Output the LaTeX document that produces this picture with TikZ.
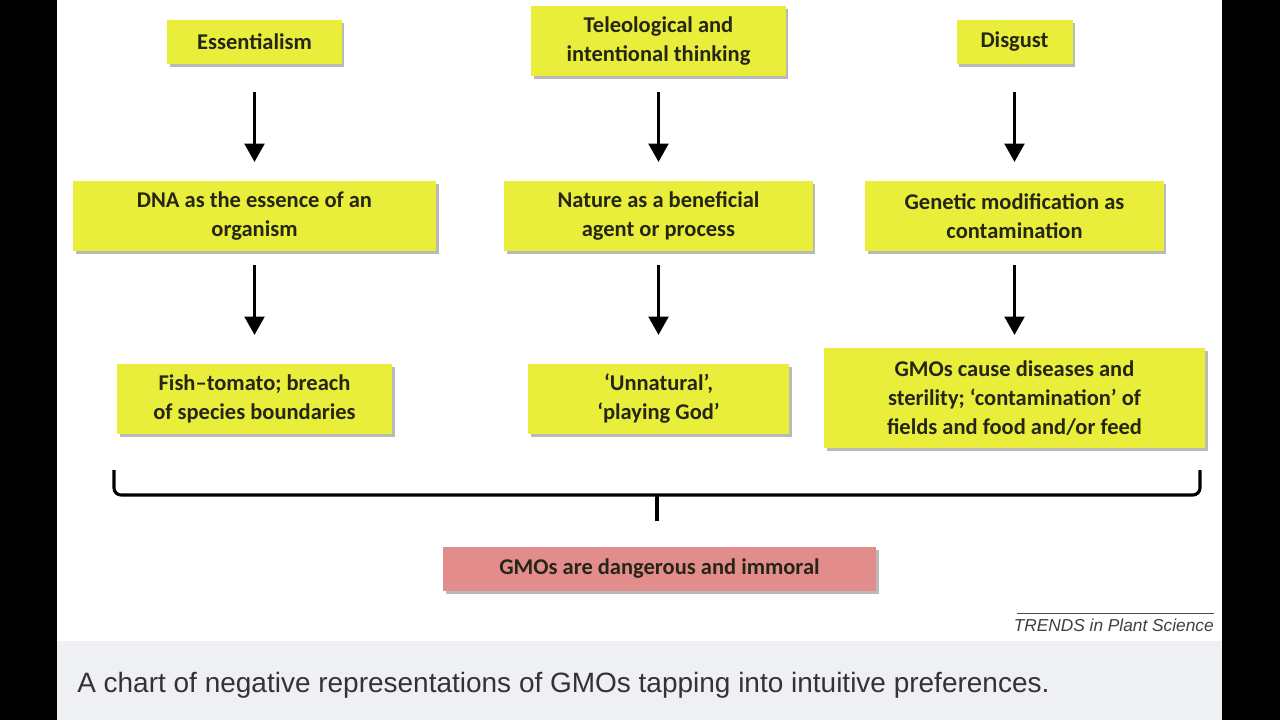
\documentclass[tikz,border=0pt]{standalone}
\usepackage{fontspec}
\setmainfont{Carlito}
\newfontfamily\capfont{Liberation Sans}
\usetikzlibrary{arrows.meta,shadows}

\definecolor{gmoyellow}{RGB}{232,238,58}
\definecolor{gmopink}{RGB}{226,140,140}
\definecolor{gmotext}{RGB}{38,38,22}
\definecolor{bandgrey}{RGB}{238,240,243}
\definecolor{captext}{RGB}{51,51,51}

\tikzset{
  gmobox/.style={fill=gmoyellow, text=gmotext, align=center, inner sep=0pt,
    font=\fontsize{16}{20.6}\selectfont\bfseries,
    drop shadow={shadow xshift=2pt, shadow yshift=-2pt, fill=black!50, opacity=0.55}},
  gmoarrow/.style={line width=2.2pt, -{Triangle[width=14pt,length=13pt]}},
}

\begin{document}
\begin{tikzpicture}[x=0.025cm,y=-0.025cm]
\useasboundingbox (0,0) rectangle (1280,720);
\fill[black] (0,0) rectangle (57,720);
\fill[black] (1222,0) rectangle (1280,720);
\fill[white] (57,0) rectangle (1222,641);
\fill[bandgrey] (57,641) rectangle (1222,720);

% top row
\node[gmobox, minimum width=4.35cm, minimum height=1.1cm] (ess) at (254.5,42) {Essentialism};
\node[gmobox, minimum width=6.35cm, minimum height=1.75cm] (tel) at (658.5,41) {Teleological and\\intentional thinking};
\node[gmobox, minimum width=2.9cm, minimum height=1.1cm] (dis) at (1014.5,42) {Disgust};

% middle row
\node[gmobox, minimum width=9.07cm, minimum height=1.75cm] (dna) at (254.5,216) {DNA as the essence of an\\organism};
\node[gmobox, minimum width=7.7cm, minimum height=1.75cm] (nat) at (658.5,216) {Nature as a beneficial\\agent or process};
\node[gmobox, minimum width=7.45cm, minimum height=1.75cm] (gen) at (1014.5,216) {Genetic modification as\\contamination};

% bottom row
\node[gmobox, minimum width=6.87cm, minimum height=1.75cm] (fish) at (254.5,399) {Fish--tomato; breach\\of species boundaries};
\node[gmobox, minimum width=6.52cm, minimum height=1.75cm] (unn) at (658.5,399) {`Unnatural',\\`playing God'};
\node[gmobox, minimum width=9.52cm, minimum height=2.5cm] (cause) at (1014.5,398) {GMOs cause diseases and\\sterility; `contamination' of\\fields and food and/or feed};

\node[gmobox, fill=gmopink, minimum width=10.82cm, minimum height=1.1cm] (danger) at (659.5,569) {GMOs are dangerous and immoral};

% arrows
\draw[gmoarrow, shorten <=0.7cm, shorten >=0.47cm] (ess) -- (dna);
\draw[gmoarrow, shorten <=0.4cm, shorten >=0.47cm] (tel) -- (nat);
\draw[gmoarrow, shorten <=0.7cm, shorten >=0.47cm] (dis) -- (gen);
\draw[gmoarrow, shorten <=0.35cm, shorten >=0.72cm] (dna) -- (fish);
\draw[gmoarrow, shorten <=0.35cm, shorten >=0.72cm] (nat) -- (unn);
\draw[gmoarrow, shorten <=0.35cm, shorten >=0.32cm] (gen) -- (cause);

% brace
\coordinate (bl) at (114,470);
\coordinate (br) at (1200,470);
\coordinate (bm) at (657,521);
\draw[line width=2.2pt, rounded corners=5pt] (bl) |- (br |- 0,495) -- (br);
\draw[line width=2.2pt] (657,495) -- (bm);

% source and caption
\draw[black!70, line width=0.6pt] (1017,613) -- (1214,613);
\node[anchor=base east, inner sep=0pt, text=black!75, font=\capfont\itshape\fontsize{12.3}{14}\selectfont] (src) at (1214,631) {TRENDS in Plant Science};
\node[anchor=base west, inner sep=0pt, text=captext, font=\capfont\fontsize{19.9}{23}\selectfont] (cap) at (77,692) {A chart of negative representations of GMOs tapping into intuitive preferences.};
\end{tikzpicture}
\end{document}
